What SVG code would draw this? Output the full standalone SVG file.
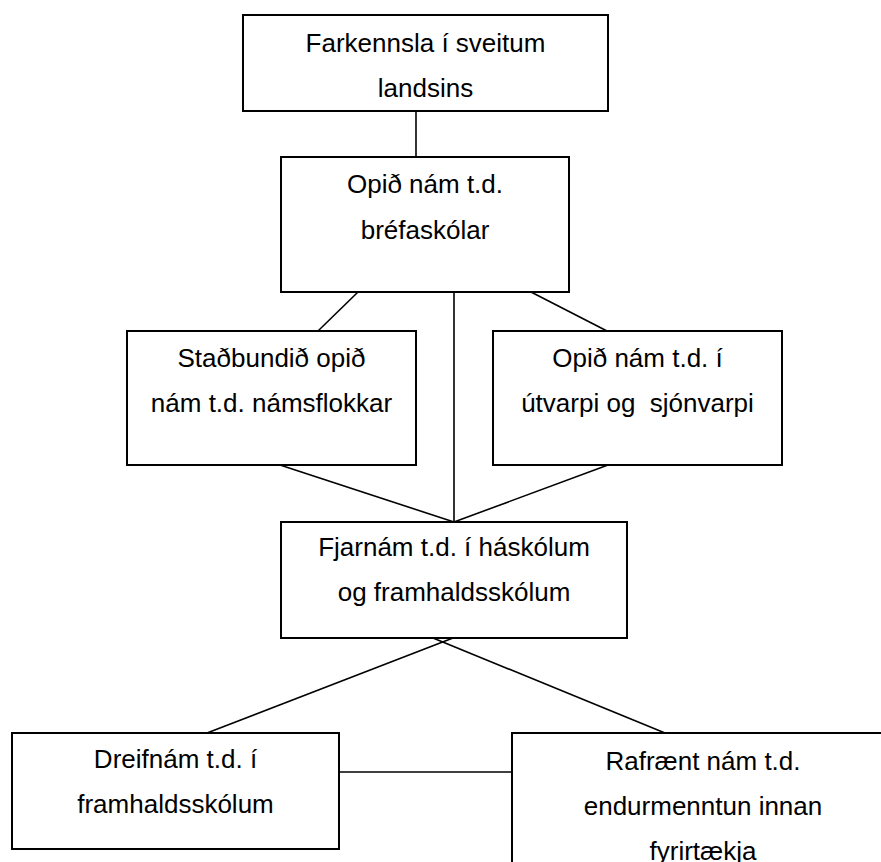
<svg xmlns="http://www.w3.org/2000/svg" width="881" height="862" viewBox="0 0 881 862">
<style>
.box{fill:#fff;stroke:#000;stroke-width:2}
.lbl{font-family:"Liberation Sans",Arial,sans-serif;font-size:26px;fill:#000;text-anchor:middle}
.con line{stroke:#000;stroke-width:1.6}
</style>
<rect width="881" height="862" fill="#fff"/>
<g id="connectors" class="con">
<line x1="416" y1="111" x2="416" y2="157"/>
<line x1="358" y1="292" x2="318" y2="331"/>
<line x1="454" y1="292" x2="454" y2="522"/>
<line x1="531" y1="292" x2="607" y2="331"/>
<line x1="280" y1="465" x2="454" y2="522"/>
<line x1="608" y1="465" x2="454" y2="522"/>
<line x1="453" y1="638" x2="207" y2="733"/>
<line x1="433" y1="638" x2="665" y2="733"/>
<line x1="339" y1="772" x2="512" y2="772"/>
</g>
<g id="n1">
<rect class="box" x="243" y="15" width="365" height="96"/>
<text class="lbl" x="425.5" y="52">Farkennsla í sveitum</text>
<text class="lbl" x="425.5" y="97">landsins</text>
</g>
<g id="n2">
<rect class="box" x="281" y="157" width="288" height="135"/>
<text class="lbl" x="425" y="193">Opið nám t.d.</text>
<text class="lbl" x="425" y="239">bréfaskólar</text>
</g>
<g id="n3">
<rect class="box" x="127" y="331" width="289" height="134"/>
<text class="lbl" x="271.5" y="367">Staðbundið opið</text>
<text class="lbl" x="271.5" y="412">nám t.d. námsflokkar</text>
</g>
<g id="n4">
<rect class="box" x="493" y="331" width="289" height="134"/>
<text class="lbl" x="637.5" y="367">Opið nám t.d. í</text>
<text class="lbl" x="637.5" y="412" xml:space="preserve">útvarpi og  sjónvarpi</text>
</g>
<g id="n5">
<rect class="box" x="281" y="522" width="346" height="116"/>
<text class="lbl" x="454" y="556">Fjarnám t.d. í háskólum</text>
<text class="lbl" x="454" y="601">og framhaldsskólum</text>
</g>
<g id="n6">
<rect class="box" x="12" y="733" width="327" height="116"/>
<text class="lbl" x="175.5" y="768">Dreifnám t.d. í</text>
<text class="lbl" x="175.5" y="813">framhaldsskólum</text>
</g>
<g id="n7">
<rect class="box" x="512" y="733" width="382" height="140"/>
<text class="lbl" x="703" y="770">Rafrænt nám t.d.</text>
<text class="lbl" x="703" y="815">endurmenntun innan</text>
<text class="lbl" x="703" y="860">fyrirtækja</text>
</g>
</svg>
